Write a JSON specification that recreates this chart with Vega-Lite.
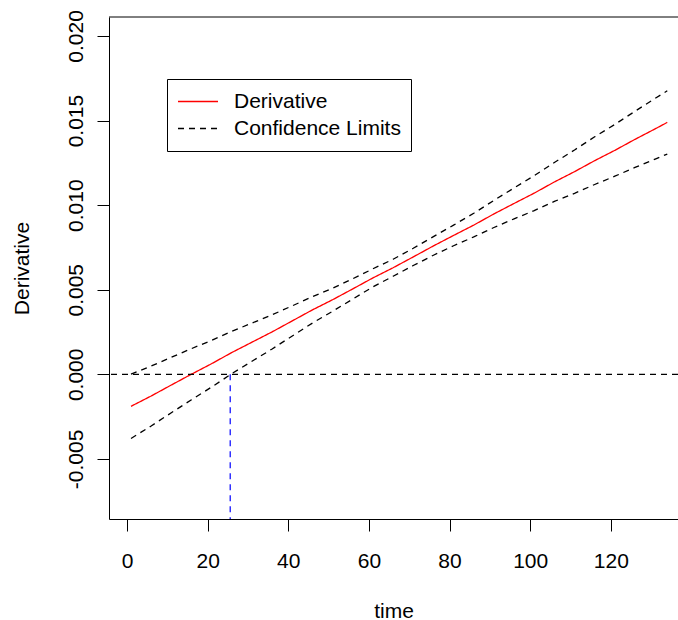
{
  "$schema": "https://vega.github.io/schema/vega-lite/v6.json",
  "width": 569,
  "height": 502,
  "autosize": {"type": "none"},
  "padding": {"left": 109, "top": 17, "right": 0, "bottom": 101},
  "background": "white",
  "config": {
    "view": {"stroke": null},
    "font": "Liberation Sans",
    "axis": {
      "grid": false, "domainColor": "black", "tickColor": "black", "labelColor": "black", "titleColor": "black",
      "labelFont": "Liberation Sans", "titleFont": "Liberation Sans", "labelFontSize": 21, "titleFontSize": 21,
      "titleFontWeight": "normal", "tickSize": 12, "tickWidth": 1, "domainWidth": 1,
      "labelOverlap": false, "labelFlush": false, "labelBound": false
    },
    "axisX": {"labelBaseline": "alphabetic", "labelPadding": 36, "labelAngle": 0, "titleBaseline": "alphabetic", "titleY": 98},
    "axisY": {"labelAngle": -90, "labelAlign": "center", "labelBaseline": "alphabetic", "labelPadding": 15, "titleAngle": -90, "titleBaseline": "alphabetic", "titleX": -81},
    "legend": {
      "orient": "none", "legendX": 58, "legendY": 62, "symbolType": "stroke", "symbolSize": 1600, "symbolStrokeWidth": 1.3,
      "clipHeight": 25, "rowPadding": 2, "padding": 10, "strokeColor": "black", "fillColor": "white",
      "labelFontSize": 21, "labelFont": "Liberation Sans", "labelColor": "black", "labelOffset": 15, "labelLimit": 400
    }
  },
  "layer": [
    {
      "data": {"values": [
        {"t": 1, "v": -0.00189, "kind": "Derivative", "band": "d"},
        {"t": 6, "v": -0.00128, "kind": "Derivative", "band": "d"},
        {"t": 11, "v": -0.00063, "kind": "Derivative", "band": "d"},
        {"t": 16, "v": 0.00001, "kind": "Derivative", "band": "d"},
        {"t": 21, "v": 0.00063, "kind": "Derivative", "band": "d"},
        {"t": 26, "v": 0.00129, "kind": "Derivative", "band": "d"},
        {"t": 31, "v": 0.0019, "kind": "Derivative", "band": "d"},
        {"t": 36, "v": 0.00251, "kind": "Derivative", "band": "d"},
        {"t": 41, "v": 0.00316, "kind": "Derivative", "band": "d"},
        {"t": 46, "v": 0.00381, "kind": "Derivative", "band": "d"},
        {"t": 51, "v": 0.00441, "kind": "Derivative", "band": "d"},
        {"t": 56, "v": 0.00505, "kind": "Derivative", "band": "d"},
        {"t": 61, "v": 0.0057, "kind": "Derivative", "band": "d"},
        {"t": 66, "v": 0.0063, "kind": "Derivative", "band": "d"},
        {"t": 71, "v": 0.00694, "kind": "Derivative", "band": "d"},
        {"t": 76, "v": 0.00759, "kind": "Derivative", "band": "d"},
        {"t": 81, "v": 0.00821, "kind": "Derivative", "band": "d"},
        {"t": 86, "v": 0.00882, "kind": "Derivative", "band": "d"},
        {"t": 91, "v": 0.00948, "kind": "Derivative", "band": "d"},
        {"t": 96, "v": 0.0101, "kind": "Derivative", "band": "d"},
        {"t": 101, "v": 0.01071, "kind": "Derivative", "band": "d"},
        {"t": 106, "v": 0.01137, "kind": "Derivative", "band": "d"},
        {"t": 111, "v": 0.01198, "kind": "Derivative", "band": "d"},
        {"t": 116, "v": 0.01263, "kind": "Derivative", "band": "d"},
        {"t": 121, "v": 0.01324, "kind": "Derivative", "band": "d"},
        {"t": 126, "v": 0.01389, "kind": "Derivative", "band": "d"},
        {"t": 131, "v": 0.01451, "kind": "Derivative", "band": "d"},
        {"t": 134, "v": 0.01489, "kind": "Derivative", "band": "d"},
        {"t": 1, "v": 0.00001, "kind": "Confidence Limits", "band": "up"},
        {"t": 6, "v": 0.00049, "kind": "Confidence Limits", "band": "up"},
        {"t": 11, "v": 0.00101, "kind": "Confidence Limits", "band": "up"},
        {"t": 16, "v": 0.00152, "kind": "Confidence Limits", "band": "up"},
        {"t": 21, "v": 0.00201, "kind": "Confidence Limits", "band": "up"},
        {"t": 26, "v": 0.00254, "kind": "Confidence Limits", "band": "up"},
        {"t": 31, "v": 0.00303, "kind": "Confidence Limits", "band": "up"},
        {"t": 36, "v": 0.00352, "kind": "Confidence Limits", "band": "up"},
        {"t": 41, "v": 0.00405, "kind": "Confidence Limits", "band": "up"},
        {"t": 46, "v": 0.00459, "kind": "Confidence Limits", "band": "up"},
        {"t": 51, "v": 0.00509, "kind": "Confidence Limits", "band": "up"},
        {"t": 56, "v": 0.00565, "kind": "Confidence Limits", "band": "up"},
        {"t": 61, "v": 0.00624, "kind": "Confidence Limits", "band": "up"},
        {"t": 66, "v": 0.0068, "kind": "Confidence Limits", "band": "up"},
        {"t": 71, "v": 0.00745, "kind": "Confidence Limits", "band": "up"},
        {"t": 76, "v": 0.00814, "kind": "Confidence Limits", "band": "up"},
        {"t": 81, "v": 0.00882, "kind": "Confidence Limits", "band": "up"},
        {"t": 86, "v": 0.00952, "kind": "Confidence Limits", "band": "up"},
        {"t": 91, "v": 0.01028, "kind": "Confidence Limits", "band": "up"},
        {"t": 96, "v": 0.01102, "kind": "Confidence Limits", "band": "up"},
        {"t": 101, "v": 0.01174, "kind": "Confidence Limits", "band": "up"},
        {"t": 106, "v": 0.01252, "kind": "Confidence Limits", "band": "up"},
        {"t": 111, "v": 0.01326, "kind": "Confidence Limits", "band": "up"},
        {"t": 116, "v": 0.01404, "kind": "Confidence Limits", "band": "up"},
        {"t": 121, "v": 0.01477, "kind": "Confidence Limits", "band": "up"},
        {"t": 126, "v": 0.01555, "kind": "Confidence Limits", "band": "up"},
        {"t": 131, "v": 0.01631, "kind": "Confidence Limits", "band": "up"},
        {"t": 134, "v": 0.01676, "kind": "Confidence Limits", "band": "up"},
        {"t": 1, "v": -0.00379, "kind": "Confidence Limits", "band": "lo"},
        {"t": 6, "v": -0.00305, "kind": "Confidence Limits", "band": "lo"},
        {"t": 11, "v": -0.00227, "kind": "Confidence Limits", "band": "lo"},
        {"t": 16, "v": -0.0015, "kind": "Confidence Limits", "band": "lo"},
        {"t": 21, "v": -0.00075, "kind": "Confidence Limits", "band": "lo"},
        {"t": 26, "v": 0.00004, "kind": "Confidence Limits", "band": "lo"},
        {"t": 31, "v": 0.00077, "kind": "Confidence Limits", "band": "lo"},
        {"t": 36, "v": 0.0015, "kind": "Confidence Limits", "band": "lo"},
        {"t": 41, "v": 0.00227, "kind": "Confidence Limits", "band": "lo"},
        {"t": 46, "v": 0.00303, "kind": "Confidence Limits", "band": "lo"},
        {"t": 51, "v": 0.00373, "kind": "Confidence Limits", "band": "lo"},
        {"t": 56, "v": 0.00445, "kind": "Confidence Limits", "band": "lo"},
        {"t": 61, "v": 0.00517, "kind": "Confidence Limits", "band": "lo"},
        {"t": 66, "v": 0.0058, "kind": "Confidence Limits", "band": "lo"},
        {"t": 71, "v": 0.00643, "kind": "Confidence Limits", "band": "lo"},
        {"t": 76, "v": 0.00704, "kind": "Confidence Limits", "band": "lo"},
        {"t": 81, "v": 0.0076, "kind": "Confidence Limits", "band": "lo"},
        {"t": 86, "v": 0.00812, "kind": "Confidence Limits", "band": "lo"},
        {"t": 91, "v": 0.00868, "kind": "Confidence Limits", "band": "lo"},
        {"t": 96, "v": 0.00919, "kind": "Confidence Limits", "band": "lo"},
        {"t": 101, "v": 0.00968, "kind": "Confidence Limits", "band": "lo"},
        {"t": 106, "v": 0.01022, "kind": "Confidence Limits", "band": "lo"},
        {"t": 111, "v": 0.0107, "kind": "Confidence Limits", "band": "lo"},
        {"t": 116, "v": 0.01122, "kind": "Confidence Limits", "band": "lo"},
        {"t": 121, "v": 0.01171, "kind": "Confidence Limits", "band": "lo"},
        {"t": 126, "v": 0.01223, "kind": "Confidence Limits", "band": "lo"},
        {"t": 131, "v": 0.01272, "kind": "Confidence Limits", "band": "lo"},
        {"t": 134, "v": 0.01302, "kind": "Confidence Limits", "band": "lo"}
      ]},
      "mark": {"type": "line", "strokeWidth": 1.3},
      "encoding": {
        "x": {"field": "t", "type": "quantitative", "title": "time",
              "scale": {"domain": [-4.46, 136.66], "nice": false, "zero": false},
              "axis": {"values": [0, 20, 40, 60, 80, 100, 120]}},
        "y": {"field": "v", "type": "quantitative", "title": "Derivative",
              "scale": {"domain": [-0.00855, 0.02112], "nice": false, "zero": false},
              "axis": {"values": [-0.005, 0, 0.005, 0.01, 0.015, 0.02], "labelExpr": "replace(format(datum.value, '.3f'), '\u2212', '-')"}},
        "color": {"field": "kind", "type": "nominal",
                  "scale": {"domain": ["Derivative", "Confidence Limits"], "range": ["#FF0000", "#000000"]},
                  "legend": {"title": null}},
        "strokeDash": {"field": "kind", "type": "nominal",
                  "scale": {"domain": ["Derivative", "Confidence Limits"], "range": [[1, 0], [6, 5]]},
                  "legend": {"title": null}},
        "detail": {"field": "band"}
      }
    },
    {
      "data": {"values": [{"h": 0}]},
      "mark": {"type": "rule", "color": "black", "strokeDash": [6, 5], "strokeWidth": 1.2},
      "encoding": {"y": {"field": "h", "type": "quantitative", "title": "Derivative"}}
    },
    {
      "data": {"values": [{"t": 25.6, "y0": 0, "y1": -0.00855}]},
      "mark": {"type": "rule", "color": "#0000FF", "strokeDash": [6, 5], "strokeWidth": 1.2},
      "encoding": {
        "x": {"field": "t", "type": "quantitative", "title": "time"},
        "y": {"field": "y0", "type": "quantitative", "title": "Derivative"},
        "y2": {"field": "y1"}
      }
    },
    {
      "data": {"values": [{"top": 0.02112}]},
      "mark": {"type": "rule", "color": "black", "strokeWidth": 1},
      "encoding": {"y": {"field": "top", "type": "quantitative", "title": "Derivative"}}
    }
  ]
}
